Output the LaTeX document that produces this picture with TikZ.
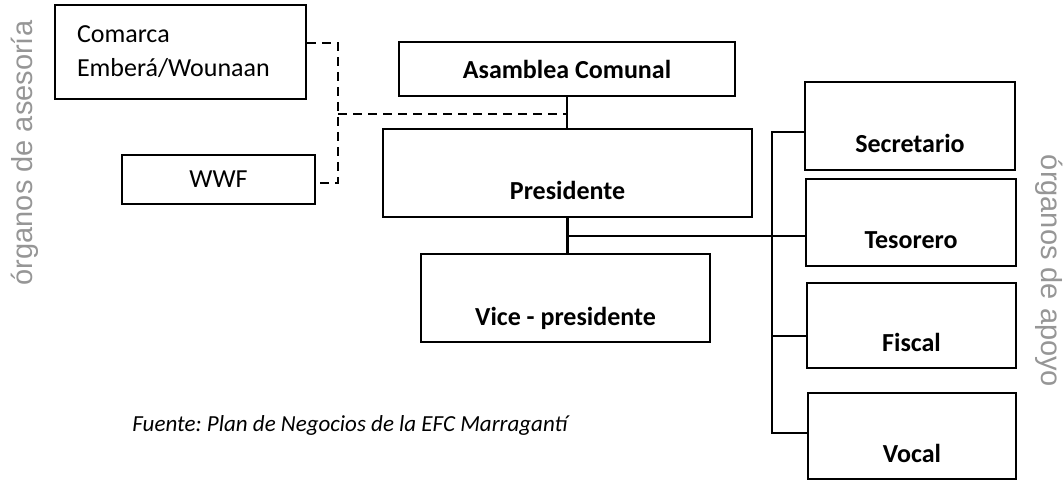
\documentclass[tikz,border=0pt]{standalone}
\usepackage{fontspec}
\setmainfont{Carlito}
\newfontfamily\rotfont{Liberation Sans}
\usepackage{tikz}
\frenchspacing
\definecolor{rotulo}{RGB}{150,150,150}
\tikzset{
	caja/.style={draw, line width=1.8pt, inner sep=0pt, font=\fontsize{26}{31}\selectfont\bfseries},
	asesor/.style={draw, line width=1.8pt, inner sep=0pt, font=\fontsize{26}{34}\selectfont},
	linea/.style={line width=2.2pt},
	punteada/.style={line width=2.2pt, dash pattern=on 9pt off 6pt},
	lateral/.style={text=rotulo, font=\fontsize{29}{34}\selectfont\rotfont}
}

\begin{document}
\begin{tikzpicture}[x=1pt, y=-1pt]
			\useasboundingbox (0,0) rectangle (1063,481);
			\node [asesor, minimum height=94pt, text width=207pt, inner xsep=22pt, align=left] (comarca) at (180.5,52) {Comarca\\Emberá/Wounaan};
			\node [asesor, minimum width=193pt, minimum height=49pt] (wwf) at (218.5,179.5) {WWF};
			\node [caja, minimum width=336pt, minimum height=54pt] (asamblea) at (567,69) {Asamblea Comunal};
			\node [caja, minimum width=369pt, text height=71pt, text depth=17pt] (presidente) at (567.5,173) {Presidente};
			\node [caja, minimum width=289pt, text height=71pt, text depth=17pt] (vice) at (565.5,298) {Vice - presidente};
			\node [caja, minimum width=210pt, text height=71pt, text depth=17pt] (secretario) at (910,126) {Secretario};
			\node [caja, minimum width=210pt, text height=70pt, text depth=17pt] (tesorero) at (911,222.5) {Tesorero};
			\node [caja, minimum width=209pt, text height=68pt, text depth=17pt] (fiscal) at (911.5,325.5) {Fiscal};
			\node [caja, minimum width=208pt, text height=69pt, text depth=17pt] (vocal) at (912,436) {Vocal};
			\coordinate (cruce) at (338,114);
			\coordinate (rama) at (567.5,236);
			\coordinate (bus) at (772,433);
			\coordinate (fiscalin) at ([yshift=-10.5pt]fiscal.west);
			\draw [punteada] ([yshift=9pt]comarca.east) -| (cruce) |- ([yshift=-3.5pt]wwf.east);
			\draw [punteada] (cruce) -- (cruce -| asamblea.south);
			\draw [linea] (asamblea.south) -- (asamblea.south |- presidente.north);
			\draw [linea] (presidente.south) -- (presidente.south |- vice.north);
			\draw [linea] (rama) -- (rama -| tesorero.west);
			\draw [linea] ([yshift=-6pt]secretario.west) -| (bus) -- ([yshift=3pt]vocal.west);
			\draw [linea] (fiscalin) -- (fiscalin -| bus);
			\node [lateral, rotate=90] (asesoria) at (25,153) {órganos de asesoría};
			\node [lateral, rotate=-90] (apoyo) at (1049,271) {órganos de apoyo};
			\node [anchor=east, font=\fontsize{23}{27}\selectfont\itshape] (fuente) at (571,425) {Fuente: Plan de Negocios de la EFC Marragantí};
		\end{tikzpicture}
\end{document}
